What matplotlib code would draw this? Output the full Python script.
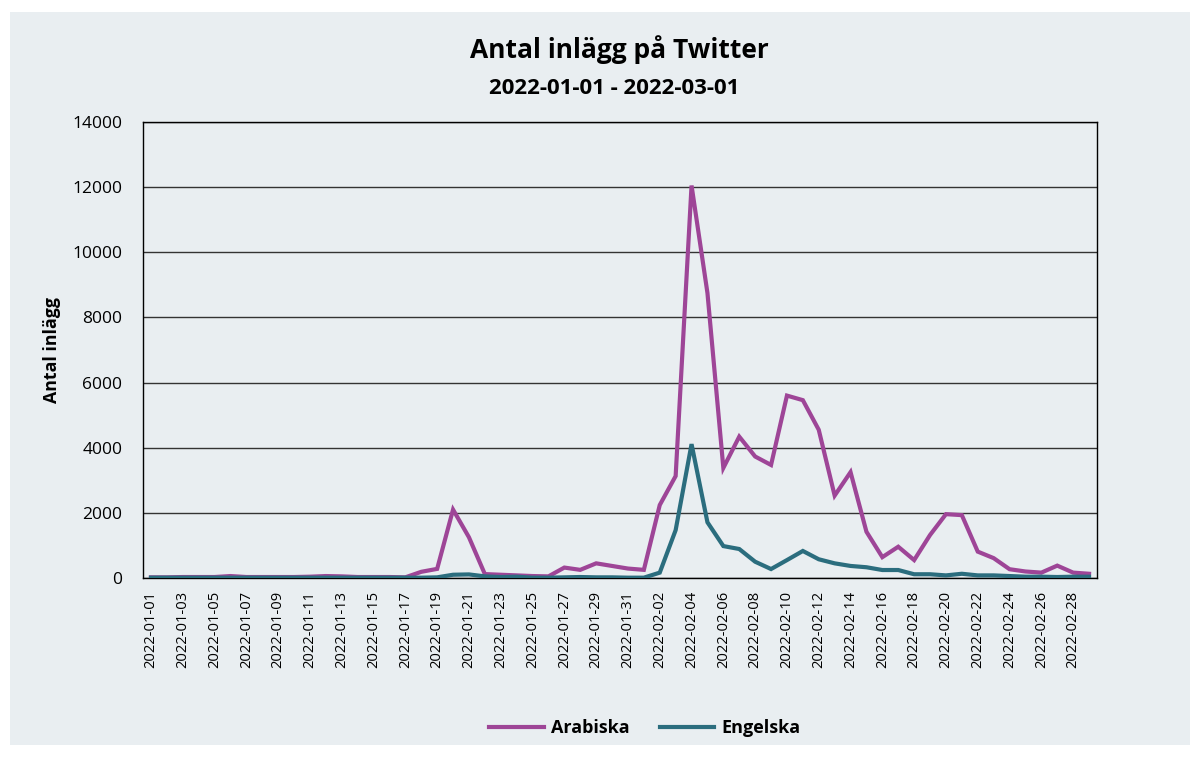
import matplotlib
matplotlib.use("Agg")
import matplotlib.pyplot as plt
from matplotlib.patches import Rectangle
import pandas as pd

dates = pd.date_range("2022-01-01", "2022-03-01", freq="D").strftime("%Y-%m-%d").tolist()

arabiska = [20, 20, 30, 30, 30, 60, 30, 30, 30, 30, 40, 60, 50, 30, 30, 30, 20,
            190, 280, 2100, 1250, 120, 100, 80, 60, 50, 320, 250, 450, 370, 290,
            250, 2240, 3130, 12050, 8750, 3380, 4340, 3730, 3470, 5600, 5460,
            4550, 2530, 3250, 1420, 640, 960, 550, 1320, 1960, 1930, 810, 610,
            270, 200, 165, 380, 165, 130]
engelska = [10, 10, 10, 10, 10, 10, 10, 10, 10, 10, 10, 10, 10, 10, 10, 10, 10,
            10, 20, 100, 110, 50, 30, 40, 10, 10, 20, 30, 20, 20, 10,
            10, 165, 1470, 4110, 1710, 980, 890, 500, 275, 550, 830,
            575, 450, 370, 330, 245, 245, 115, 115, 80, 130, 80, 80,
            60, 40, 40, 30, 40, 40]

title = "Antal inlägg på Twitter"
subtitle = "2022-01-01 - 2022-03-01"
ylabel = "Antal inlägg"
series_names = ["Arabiska", "Engelska"]
colors = ["#9E4597", "#2B6D7E"]
bg = "#E9EEF1"

plt.rcParams['font.family'] = ['Open Sans', 'DejaVu Sans']

fig = plt.figure(figsize=(12.03, 7.59), dpi=100)
fig.patch.set_facecolor("white")
fig.patches.append(Rectangle((10/1203, 1 - 745/759), (1190-10)/1203, (745-12)/759,
                             transform=fig.transFigure, facecolor=bg, edgecolor="none", zorder=-10))

ax = fig.add_axes([143/1203, 1 - 578/759, (1097-143)/1203, (578-122)/759])
ax.set_facecolor(bg)

x = list(range(len(dates)))
ax.plot(x, arabiska, color=colors[0], lw=3, label=series_names[0], solid_joinstyle="miter", zorder=3)
ax.plot(x, engelska, color=colors[1], lw=3, label=series_names[1], solid_joinstyle="miter", zorder=3)

ax.set_xlim(-0.5, len(dates) - 0.5)
ax.set_ylim(0, 14000)
ax.set_yticks(range(0, 14001, 2000))
ax.set_yticklabels([str(v) for v in range(0, 14001, 2000)], fontsize=12.5)
ax.set_xticks(x[::2])
ax.set_xticklabels(dates[::2], rotation=90, fontsize=10.6)
ax.tick_params(axis="y", length=0, pad=15)
ax.tick_params(axis="x", length=0, pad=9)
ax.grid(axis="y", color="#333333", lw=1, zorder=1)
ax.set_axisbelow(True)
for s in ax.spines.values():
    s.set_color("black")
    s.set_linewidth(1)

ax.set_ylabel(ylabel, fontsize=12.8, fontweight="bold", labelpad=8)

fig.text(619/1203, 1 - 50/759, title, ha="center", va="center", fontsize=19, fontweight="bold")
fig.text(614/1203, 1 - 88/759, subtitle, ha="center", va="center", fontsize=16, fontweight="bold")

leg = fig.legend(loc="center", bbox_to_anchor=(645/1203, 1 - 728/759), ncol=2, frameon=False,
                 prop={"size": 13, "weight": "bold"}, handlelength=3.0, columnspacing=1.7,
                 handletextpad=0.4)

fig.savefig("out.png", dpi=100, facecolor=fig.get_facecolor())
